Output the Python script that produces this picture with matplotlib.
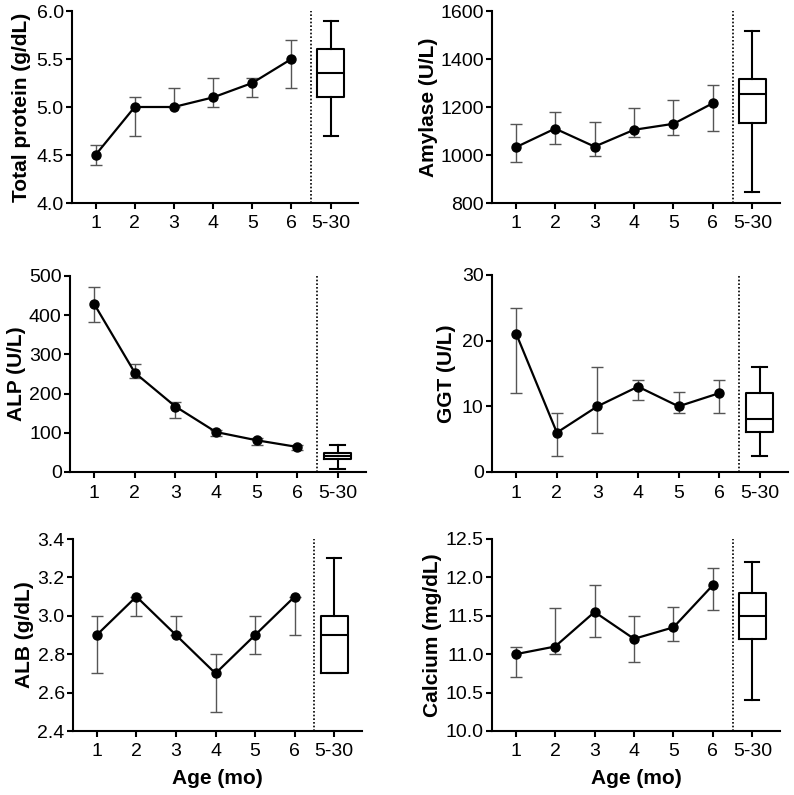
import matplotlib
matplotlib.use("Agg")
import matplotlib.pyplot as plt
import numpy as np

plt.rcParams['font.family'] = ['Liberation Sans', 'DejaVu Sans']

ages = [1, 2, 3, 4, 5, 6]
tick_labels = ['1', '2', '3', '4', '5', '6', '5-30']

# means, lower / upper ends of the error bars, and adult box (whislo, q1, med, q3, whishi)
tp_mean = [4.5, 5.0, 5.0, 5.1, 5.25, 5.5]
tp_lo = [4.4, 4.7, 5.0, 5.0, 5.1, 5.2]
tp_hi = [4.6, 5.1, 5.2, 5.3, 5.3, 5.7]
tp_box = [4.7, 5.1, 5.35, 5.6, 5.9]

amy_mean = [1032, 1110, 1035, 1105, 1130, 1216]
amy_lo = [970, 1046, 995, 1073, 1084, 1100]
amy_hi = [1128, 1180, 1138, 1194, 1230, 1291]
amy_box = [847, 1135, 1254, 1318, 1517]

alp_mean = [428, 253, 167, 102, 81, 64]
alp_lo = [382, 240, 138, 93, 69, 55]
alp_hi = [471, 276, 179, 108, 87, 70]
alp_box = [8.5, 32, 40, 49, 69]

ggt_mean = [21, 6, 10, 13, 10, 12]
ggt_lo = [12, 2.4, 6, 11, 9, 9]
ggt_hi = [25, 9, 16, 14, 12.2, 14]
ggt_box = [2.4, 6.1, 8, 12.1, 16]

alb_mean = [2.9, 3.1, 2.9, 2.7, 2.9, 3.1]
alb_lo = [2.7, 3.0, 2.9, 2.5, 2.8, 2.9]
alb_hi = [3.0, 3.1, 3.0, 2.8, 3.0, 3.1]
alb_box = [2.7, 2.7, 2.9, 3.0, 3.3]

ca_mean = [11.0, 11.1, 11.55, 11.2, 11.35, 11.9]
ca_lo = [10.7, 11.0, 11.22, 10.9, 11.17, 11.57]
ca_hi = [11.1, 11.6, 11.9, 11.5, 11.62, 12.12]
ca_box = [10.4, 11.2, 11.5, 11.8, 12.2]

W, H = 794, 795
fig = plt.figure(figsize=(W / 100, H / 100), dpi=100)

# (title, mean, lo, hi, box, yticks, fmt, axes px box (l, t, r, b), label x px, xlabel)
panels = [
    ('Total protein (g/dL)', tp_mean, tp_lo, tp_hi, tp_box, np.arange(4.0, 6.01, 0.5), '{:.1f}', (72, 11, 358, 203), 22, False),
    ('Amylase (U/L)', amy_mean, amy_lo, amy_hi, amy_box, np.arange(800, 1601, 200), '{:.0f}', (492, 11, 780, 203), 429, False),
    ('ALP (U/L)', alp_mean, alp_lo, alp_hi, alp_box, np.arange(0, 501, 100), '{:.0f}', (70, 276, 366, 472), 17, False),
    ('GGT (U/L)', ggt_mean, ggt_lo, ggt_hi, ggt_box, np.arange(0, 31, 10), '{:.0f}', (492, 275, 788, 472), 446, False),
    ('ALB (g/dL)', alb_mean, alb_lo, alb_hi, alb_box, np.arange(2.4, 3.41, 0.2), '{:.1f}', (73, 539, 362, 731), 25, True),
    ('Calcium (mg/dL)', ca_mean, ca_lo, ca_hi, ca_box, np.arange(10.0, 12.51, 0.5), '{:.1f}', (492, 539, 780, 731), 433, True),
]

for name, mean, lo, hi, box, yt, fmt, (l, t, r, b), lx, xl in panels:
    ax = fig.add_axes([l / W, 1 - b / H, (r - l) / W, (b - t) / H])
    mean = np.array(mean)
    yerr = [mean - np.array(lo), np.array(hi) - mean]
    ax.errorbar(ages, mean, yerr=yerr, fmt='none', ecolor='#555555', elinewidth=1.0,
                capsize=4.5, capthick=1.0, zorder=2)
    ax.plot(ages, mean, color='black', lw=1.6, marker='o', ms=6.5, zorder=3)
    stats = [dict(whislo=box[0], q1=box[1], med=box[2], q3=box[3], whishi=box[4], fliers=[])]
    ax.bxp(stats, positions=[7], widths=0.68, showfliers=False,
           boxprops=dict(color='black', lw=1.5),
           medianprops=dict(color='black', lw=1.5),
           whiskerprops=dict(color='black', lw=1.5),
           capprops=dict(color='black', lw=1.5), capwidths=0.36)
    ax.axvline(6.5, color='black', lw=1.2, ls=(0, (1, 1.2)))
    ax.set_xlim(0.4, 7.7)
    ax.set_ylim(yt[0], yt[-1])
    ax.set_yticks(yt)
    ax.set_yticklabels([fmt.format(v) for v in yt])
    ax.set_xticks(range(1, 8))
    ax.set_xticklabels(tick_labels)
    for s in ['top', 'right']:
        ax.spines[s].set_visible(False)
    for s in ['left', 'bottom']:
        ax.spines[s].set_linewidth(1.5)
    ax.tick_params(axis='both', labelsize=14, width=1.5, length=4, direction='out')
    ax.tick_params(axis='x', pad=5)
    ax.tick_params(axis='y', pad=2)
    ax.set_ylabel(name, fontsize=15, fontweight='bold')
    ax.yaxis.label.set_va('center')
    ax.yaxis.set_label_coords((lx - l) / (r - l), 0.5)
    if xl:
        ax.set_xlabel('Age (mo)', fontsize=15, fontweight='bold', labelpad=6)

fig.savefig('out.png', dpi=100)
